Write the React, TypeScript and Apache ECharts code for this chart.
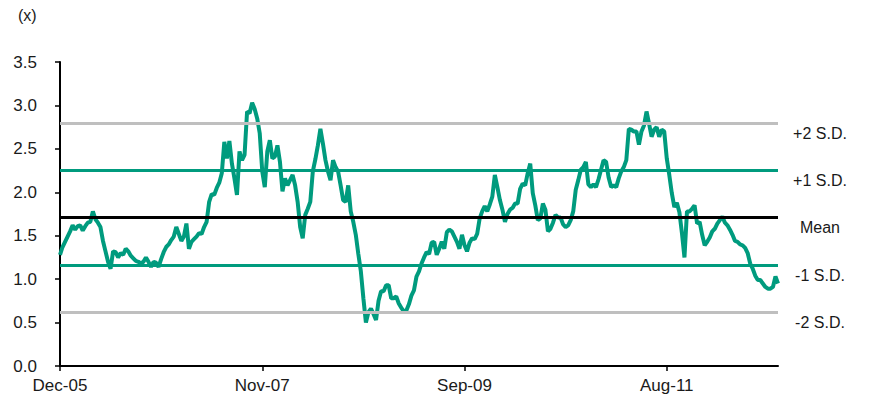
import React, { useEffect, useRef } from 'react';
import * as echarts from 'echarts';

// Axis tick labels (one every `tickStep` observations)
const tickLabels = ['Dec-05', 'Nov-07', 'Sep-09', 'Aug-11'];
const tickStep = 80;

const ratio = [
  1.28, 1.37, 1.43, 1.49, 1.55, 1.62, 1.57, 1.61, 1.62, 1.56,
  1.61, 1.65, 1.66, 1.78, 1.69, 1.65, 1.60, 1.44, 1.32, 1.20,
  1.12, 1.32, 1.31, 1.25, 1.30, 1.28, 1.35, 1.32, 1.27, 1.24,
  1.21, 1.20, 1.18, 1.20, 1.25, 1.20, 1.14, 1.20, 1.19, 1.14,
  1.23, 1.31, 1.37, 1.40, 1.45, 1.49, 1.60, 1.52, 1.44, 1.49,
  1.64, 1.35, 1.43, 1.46, 1.49, 1.53, 1.52, 1.60, 1.66, 1.89,
  1.98, 1.97, 2.05, 2.11, 2.22, 2.58, 2.39, 2.59, 2.33, 2.16,
  1.97, 2.47, 2.37, 2.43, 2.93, 2.91, 3.03, 2.96, 2.85, 2.68,
  2.24, 2.06, 2.47, 2.60, 2.39, 2.41, 2.54, 2.35, 2.01, 2.16,
  2.08, 2.14, 2.20, 2.08, 1.89, 1.60, 1.47, 1.74, 1.81, 1.89,
  2.24, 2.38, 2.54, 2.73, 2.56, 2.37, 2.24, 2.14, 2.37, 2.29,
  2.24, 2.08, 1.91, 1.89, 2.08, 1.78, 1.66, 1.51, 1.29, 1.09,
  0.78, 0.50, 0.62, 0.66, 0.60, 0.53, 0.75, 0.86, 0.86, 0.93,
  0.93, 0.78, 0.78, 0.80, 0.72, 0.67, 0.63, 0.64, 0.71, 0.81,
  0.87, 1.03, 1.09, 1.18, 1.25, 1.31, 1.29, 1.42, 1.43, 1.28,
  1.35, 1.43, 1.35, 1.54, 1.57, 1.55, 1.49, 1.43, 1.35, 1.51,
  1.39, 1.32, 1.42, 1.47, 1.46, 1.52, 1.70, 1.78, 1.84, 1.78,
  1.86, 1.95, 2.20, 2.06, 1.91, 1.80, 1.66, 1.75, 1.80, 1.82,
  1.87, 1.87, 2.04, 2.10, 2.08, 2.22, 2.33, 1.99, 1.85, 1.68,
  1.70, 1.87, 1.80, 1.55, 1.58, 1.65, 1.74, 1.71, 1.71, 1.63,
  1.60, 1.62, 1.68, 1.78, 2.03, 2.14, 2.26, 2.29, 2.35, 2.09,
  2.06, 2.09, 2.06, 2.15, 2.26, 2.37, 2.35, 2.17, 2.06, 2.08,
  2.06, 2.16, 2.24, 2.29, 2.37, 2.73, 2.72, 2.70, 2.70, 2.55,
  2.70, 2.77, 2.93, 2.79, 2.64, 2.72, 2.75, 2.64, 2.72, 2.70,
  2.39, 2.20, 1.99, 1.83, 1.88, 1.77, 1.53, 1.25, 1.78, 1.78,
  1.81, 1.85, 1.64, 1.66, 1.51, 1.39, 1.43, 1.48, 1.55, 1.58,
  1.64, 1.68, 1.72, 1.65, 1.62, 1.57, 1.51, 1.44, 1.43, 1.40,
  1.39, 1.36, 1.30, 1.18, 1.12, 1.04, 0.99, 0.99, 0.95, 0.91,
  0.89, 0.89, 0.91, 1.03, 0.95,
];

// Mean and standard-deviation bands
const bandNames = ['+2 S.D.', '+1 S.D.', 'Mean', '-1 S.D.', '-2 S.D.'];
const bandValues = [2.79, 2.25, 1.705, 1.16, 0.62];

const TEAL = '#009B7E';
const GREY = '#BFBFBF';
const bandColors = [GREY, TEAL, '#000000', TEAL, GREY];
const FONT = 'Liberation Sans, Arial, sans-serif';
const TEXT = '#1a1a1a';

export default function App() {
  const ref = useRef<HTMLDivElement>(null);

  useEffect(() => {
    if (!ref.current) return;
    const chart = echarts.init(ref.current, null, { renderer: 'svg' });
    const data = ratio.map((v, i) => [i, v]);
    const last = ratio.length - 1;
    const tickValues = tickLabels.map((_, i) => i * tickStep);

    chart.setOption({
      animation: false,
      grid: { left: 60, right: 96, top: 62, bottom: 37, containLabel: false },
      xAxis: {
        type: 'value',
        min: 0,
        max: last,
        splitLine: { show: false },
        axisLine: { show: true, lineStyle: { color: '#000', width: 2 } },
        axisTick: {
          show: true,
          customValues: tickValues,
          length: 5,
          inside: false,
          lineStyle: { color: '#000', width: 1.5 },
        },
        axisLabel: {
          customValues: tickValues,
          formatter: (v: number) => tickLabels[Math.round(v / tickStep)] ?? '',
          margin: 11,
          fontSize: 17,
          color: TEXT,
          fontFamily: FONT,
        },
      },
      yAxis: {
        type: 'value',
        min: 0,
        max: 3.5,
        interval: 0.5,
        splitLine: { show: false },
        axisLine: { show: true, lineStyle: { color: '#000', width: 2 } },
        axisTick: { show: true, length: 5, lineStyle: { color: '#000', width: 1.5 } },
        axisLabel: {
          formatter: (v: number) => v.toFixed(1),
          margin: 23,
          fontSize: 17,
          color: TEXT,
          fontFamily: FONT,
        },
      },
      series: [
        {
          type: 'line',
          data,
          showSymbol: false,
          symbol: 'none',
          lineStyle: { color: TEAL, width: 4 },
          z: 2,
          markLine: {
            silent: true,
            symbol: 'none',
            label: { show: false },
            data: bandValues.map((v, k) => ({
              yAxis: v,
              lineStyle: { color: bandColors[k], width: 3, type: 'solid' },
            })),
          },
        },
      ],
    });

    const xEnd = chart.convertToPixel({ xAxisIndex: 0 }, last) as number;
    chart.setOption({
      graphic: [
        {
          type: 'text',
          left: 18,
          top: 7,
          style: { text: '(x)', fontSize: 16, fill: TEXT, fontFamily: FONT },
        },
        ...bandNames.map((name, k) => ({
          type: 'text',
          x: xEnd + 42,
          y: (chart.convertToPixel({ yAxisIndex: 0 }, bandValues[k]) as number) + 10,
          style: {
            text: name,
            fontSize: 16,
            fill: TEXT,
            fontFamily: FONT,
            align: 'center',
            verticalAlign: 'middle',
          },
        })),
      ],
    });

    return () => chart.dispose();
  }, []);

  return (
    <div
      ref={ref}
      style={{ position: 'absolute', left: 0, top: 0, width: 874, height: 403 }}
    />
  );
}
